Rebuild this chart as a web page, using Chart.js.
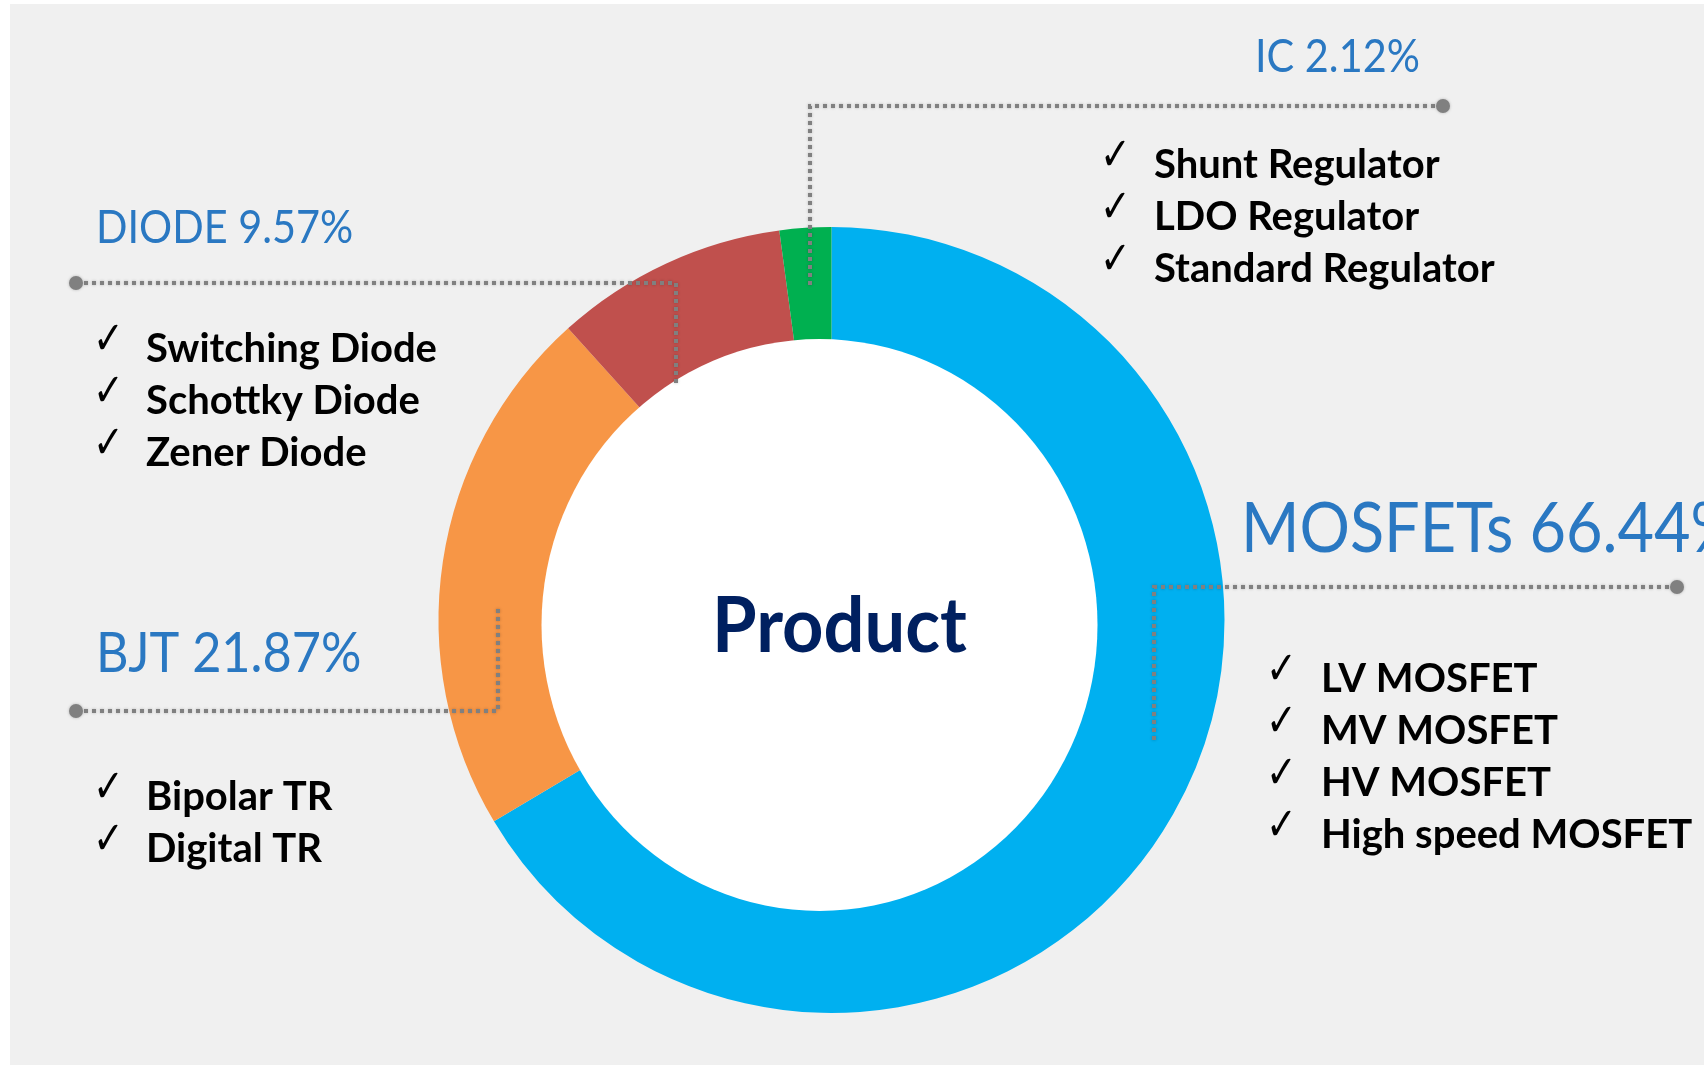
<!DOCTYPE html>
<html>
<head>
<meta charset="utf-8">
<script src="https://cdn.jsdelivr.net/npm/chart.js@4.4.1/dist/chart.umd.min.js"></script>
<style>
  html, body { margin: 0; padding: 0; background: #fff; }
  canvas { display: block; }
</style>
</head>
<body>
<canvas id="myChart" width="1704" height="1069"></canvas>
<script>
// Data
const categories = ["MOSFETs", "BJT", "DIODE", "IC"];
const shares = [66.44, 21.87, 9.57, 2.12];
const sliceColors = ["#00B0F0", "#F79646", "#C0504D", "#00B050"];

const mosfetItems = ["LV MOSFET", "MV MOSFET", "HV MOSFET", "High speed MOSFET"];
const bjtItems = ["Bipolar TR", "Digital TR"];
const diodeItems = ["Switching Diode", "Schottky Diode", "Zener Diode"];
const icItems = ["Shunt Regulator", "LDO Regulator", "Standard Regulator"];
const subItems = [mosfetItems, bjtItems, diodeItems, icItems];

const centerTitle = "Product";

// Callout layout (pixels), one per category, same order
const callouts = [
  { labelX: 1241, labelY: 552, size: 70, path: [[1677, 587], [1154, 587], [1154, 744]], checkX: 1266, textX: 1321, firstY: 692 },
  { labelX: 96, labelY: 672, size: 56, path: [[76, 711], [498, 711], [498, 609]], checkX: 93, textX: 146, firstY: 810 },
  { labelX: 96, labelY: 243, size: 46, path: [[76, 283], [676, 283], [676, 383]], checkX: 93, textX: 146, firstY: 362 },
  { labelX: 1255, labelY: 72, size: 46, path: [[1443, 106], [810, 106], [810, 288]], checkX: 1100, textX: 1154, firstY: 178 },
];

// draw text squeezed horizontally (Calibri is narrower than Lato)
function drawSqueezed(ctx, text, x, y, sx) {
  ctx.save();
  ctx.translate(x, y);
  ctx.scale(sx, 1);
  ctx.fillText(text, 0, 0);
  ctx.restore();
}

const backgroundPlugin = {
  id: "background",
  beforeDraw(chart) {
    const ctx = chart.ctx;
    ctx.save();
    ctx.fillStyle = "#ffffff";
    ctx.fillRect(0, 0, chart.width, chart.height);
    ctx.fillStyle = "#f0f0f0";
    ctx.fillRect(10, 4, chart.width - 10, chart.height - 8);
    ctx.restore();
  },
  beforeDatasetsDraw(chart) {
    const arc = chart.getDatasetMeta(0).data[0];
    const ctx = chart.ctx;
    ctx.save();
    ctx.fillStyle = "#ffffff";
    ctx.beginPath();
    ctx.arc(arc.x, arc.y, arc.innerRadius, 0, Math.PI * 2);
    ctx.fill();
    ctx.restore();
  },
};

const calloutPlugin = {
  id: "callouts",
  afterDatasetsDraw(chart) {
    const ctx = chart.ctx;
    const arc = chart.getDatasetMeta(0).data[0];

    // hole (slightly off-centre like the original)
    ctx.save();
    ctx.fillStyle = "#ffffff";
    ctx.beginPath();
    ctx.ellipse(arc.x - 12, arc.y + 5, 278, 286, 0, 0, Math.PI * 2);
    ctx.fill();
    ctx.restore();

    // center title
    ctx.save();
    ctx.fillStyle = "#002060";
    ctx.font = "bold 76px Lato";
    ctx.textBaseline = "alphabetic";
    const w = ctx.measureText(centerTitle).width * 0.95;
    drawSqueezed(ctx, centerTitle, arc.x + 8 - w / 2, 652, 0.95);
    ctx.restore();

    callouts.forEach((c, i) => {
      // dotted leader line
      ctx.save();
      ctx.strokeStyle = "#808080";
      ctx.lineWidth = 4;
      ctx.setLineDash([4, 4]);
      ctx.shadowColor = "rgba(0,0,0,0.25)";
      ctx.shadowBlur = 3;
      ctx.beginPath();
      c.path.forEach((p, j) => (j === 0 ? ctx.moveTo(p[0], p[1]) : ctx.lineTo(p[0], p[1])));
      ctx.stroke();
      ctx.setLineDash([]);
      ctx.fillStyle = "#808080";
      ctx.beginPath();
      ctx.arc(c.path[0][0], c.path[0][1], 7, 0, Math.PI * 2);
      ctx.fill();
      ctx.restore();

      // category label
      ctx.save();
      ctx.fillStyle = "#2a78c2";
      ctx.font = c.size + "px Lato";
      ctx.textBaseline = "alphabetic";
      drawSqueezed(ctx, categories[i] + " " + shares[i] + "%", c.labelX, c.labelY, 0.9);
      ctx.restore();

      // check list
      subItems[i].forEach((item, k) => {
        const y = c.firstY + k * 52;
        ctx.save();
        ctx.fillStyle = "#000000";
        ctx.font = "46px 'DejaVu Sans'";
        drawSqueezed(ctx, "\u2713", c.checkX, y - 8, 0.8);
        ctx.font = "bold 40px Lato";
        ctx.fillText(item, c.textX, y);
        ctx.restore();
      });
    });
  },
};

const dati = {
  labels: categories,
  datasets: [
    {
      data: shares,
      backgroundColor: sliceColors,
      borderWidth: 0,
      hoverOffset: 0,
      offset: 0,
    },
  ],
};

const config = {
  type: "doughnut",
  data: dati,
  options: {
    responsive: false,
    animation: false,
    cutout: "66%",
    rotation: 0,
    layout: {
      padding: { left: 438, right: 479, top: 227, bottom: 56 },
    },
    plugins: {
      legend: { display: false },
      tooltip: { enabled: false },
    },
    events: [],
  },
  plugins: [backgroundPlugin, calloutPlugin],
};

const myChart = new Chart(document.getElementById("myChart").getContext("2d"), config);
</script>
</body>
</html>
